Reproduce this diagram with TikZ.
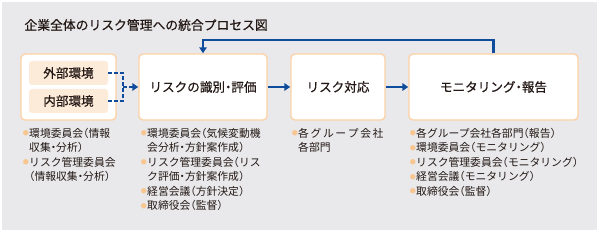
\documentclass[tikz,border=0pt]{standalone}
\usepackage{fontspec}
\setmainfont{Noto Sans CJK JP}
\newfontfamily\jpmed{Noto Sans CJK JP}[FakeBold=0.6]
\usetikzlibrary{arrows.meta, calc}
\usepackage{xcolor}
\definecolor{panelgray}{HTML}{E9E9EB}
\definecolor{boxedge}{HTML}{FCD2A6}
\definecolor{envfill}{HTML}{FDEBD9}
\definecolor{flowblue}{HTML}{0F4C9C}
\definecolor{dotorange}{HTML}{F8C690}
\definecolor{inkdark}{HTML}{231815}
\newcommand\dotmark{\llap{\raisebox{1.6pt}{\textcolor{dotorange}{\fontsize{6}{6}\selectfont ●}}\hspace{0.3pt}}}
\newcommand\lp{\makebox[.5em][r]{（}}
\newcommand\rp{\makebox[.5em][l]{）}}
\newcommand\md{\makebox[.5em][c]{・}}

\begin{document}
\begin{tikzpicture}[x=1pt, y=-1pt, text=inkdark,
    font=\fontsize{10.8}{14.5}\selectfont,
    box/.style={draw=boxedge, line width=1.4pt, fill=white, rounded corners=4pt,
                minimum height=66pt, font=\jpmed\fontsize{12.6}{14}\selectfont},
    envbox/.style={fill=envfill, rounded corners=3pt, minimum width=79pt,
                   minimum height=24pt, font=\jpmed\fontsize{12.6}{14}\selectfont},
    flow/.style={draw=flowblue, line width=2.2pt, -{Triangle[length=6pt,width=7.5pt]}},
    dashflow/.style={draw=flowblue, line width=2pt, dash pattern=on 4pt off 2pt},
    notes/.style={anchor=north west, inner sep=0pt, align=left}]
  \useasboundingbox (0,0) rectangle (600,235);
  \fill[panelgray] (2,2) rectangle (597,230);

  \node[anchor=west, font=\jpmed\fontsize{12.8}{15}\selectfont] (title) at (21,25)
    {企業全体のリスク管理への統合プロセス図};

  % process boxes
  \node[box, minimum width=95pt] (env) at (68.5,87) {};
  \node[envbox] (ext) at (68.5,73) {外部環境};
  \node[envbox] (int) at (68.5,101) {内部環境};
  \node[box, minimum width=128pt] (ident) at (203,87) {リスクの識別\md 評価};
  \node[box, minimum width=94pt] (resp) at (338,87) {リスク対応};
  \node[box, minimum width=169pt] (mon) at (493.5,87) {モニタリング\md 報告};

  % connectors
  \coordinate (join) at (123,87);
  \draw[dashflow] (ext.east) -| (join);
  \draw[dashflow] (int.east) -| (join);
  \draw[dashflow, flow] (join) -- (ident.west);
  \draw[flow] (ident) -- (resp);
  \draw[flow] (resp) -- (mon);
  \draw[flow] (mon.north) -- ++(0,-13) -| (ident.north);

  % notes below
  \node[notes] (n1) at (29,128)
    {\dotmark 環境委員会\lp 情報\\収集\md 分析\rp\\\dotmark リスク管理委員会\\\lp 情報収集\md 分析\rp};
  \node[notes] (n2) at (147,128)
    {\dotmark 環境委員会\lp 気候変動機\\会分析\md 方針案作成\rp\\\dotmark リスク管理委員会\lp リス\\ク評価\md 方針案作成\rp\\\dotmark 経営会議\lp 方針決定\rp\\\dotmark 取締役会\lp 監督\rp};
  \node[notes] (n3) at (298,128)
    {\dotmark\makebox[84pt][s]{各 グ ル ー プ 会 社}\\各部門};
  \node[notes] (n4) at (416,128)
    {\dotmark 各グループ会社各部門\lp 報告\rp\\\dotmark 環境委員会\lp モニタリング\rp\\\dotmark リスク管理委員会\lp モニタリング\rp\\\dotmark 経営会議\lp モニタリング\rp\\\dotmark 取締役会\lp 監督\rp};
\end{tikzpicture}
\end{document}
